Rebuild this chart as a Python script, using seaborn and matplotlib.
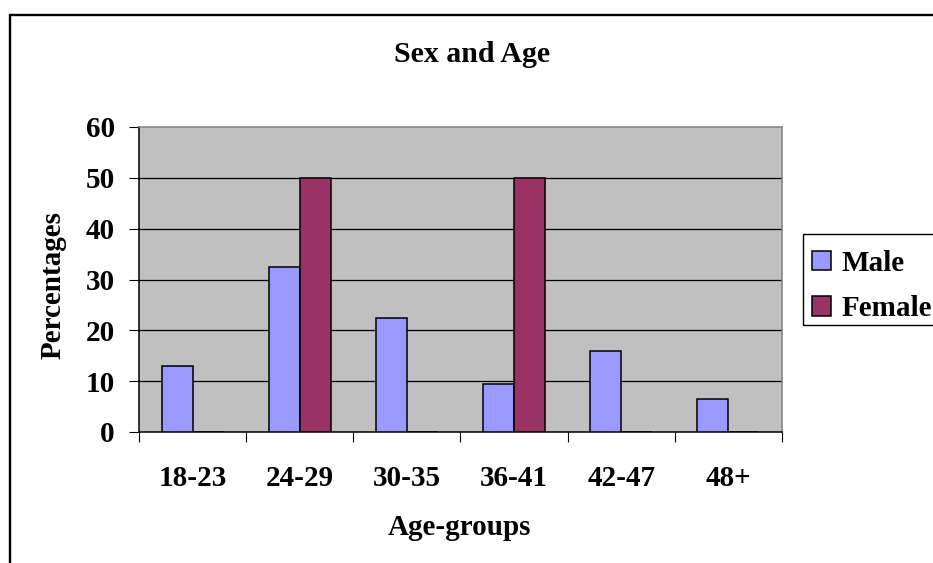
import numpy as np
import pandas as pd
import matplotlib
matplotlib.use("Agg")
import matplotlib.pyplot as plt
from matplotlib.patches import Patch, Rectangle
from matplotlib.lines import Line2D
import seaborn as sns

# ---- data ----
age_groups = ["18-23", "24-29", "30-35", "36-41", "42-47", "48+"]
male = [13, 32.5, 22.5, 9.5, 16, 6.5]
female = [0, 50, 0, 50, 0, 0]
series = ["Male", "Female"]
y_ticks = [0, 10, 20, 30, 40, 50, 60]

df = pd.DataFrame({
    "age": age_groups * 2,
    "pct": male + female,
    "sex": ["Male"] * len(age_groups) + ["Female"] * len(age_groups),
})

sns.set_style("white")
plt.rcParams["font.family"] = ["Liberation Serif", "DejaVu Serif"]
plt.rcParams["font.weight"] = "bold"
plt.rcParams["text.color"] = "black"
plt.rcParams["axes.labelcolor"] = "black"
plt.rcParams["xtick.color"] = "black"
plt.rcParams["ytick.color"] = "black"
plt.rcParams["xtick.labelcolor"] = "black"
plt.rcParams["ytick.labelcolor"] = "black"

W, H = 933, 563
fig = plt.figure(figsize=(W / 100, H / 100), dpi=100)
fig.patch.set_facecolor("white")

L, R, T, B = 139, 782, 127, 432
ax = fig.add_axes([L / W, 1 - B / H, (R - L) / W, (B - T) / H])
ax.set_facecolor("#C0C0C0")

colors = {"Male": "#9999FF", "Female": "#993366"}
sns.barplot(data=df, x="age", y="pct", hue="sex", hue_order=series,
            palette=colors, width=0.58, edgecolor="black", linewidth=1.1,
            saturation=1, ax=ax, legend=False, zorder=3)

ax.set_xlim(-0.5, len(age_groups) - 0.5)
ax.set_ylim(0, 60)
ax.set_yticks(y_ticks)
ax.set_yticklabels([str(v) for v in y_ticks], fontsize=21, fontweight="bold",
                   color="black")
for v in y_ticks[1:-1]:
    ax.axhline(v, color="black", linewidth=0.9, zorder=1)

# x ticks at category boundaries, labels at centres
ax.set_xticks(np.arange(-0.5, len(age_groups)), minor=False)
ax.set_xticklabels([""] * (len(age_groups) + 1))
ax.set_xticks(np.arange(len(age_groups)), minor=True)
ax.set_xticklabels(age_groups, minor=True, fontsize=21, fontweight="bold",
                   color="black")
ax.tick_params(axis="x", which="major", direction="out", length=7.5, width=0.8,
               color="black", bottom=True)
ax.tick_params(axis="x", which="minor", length=0, pad=24, bottom=True)
ax.tick_params(axis="y", direction="out", length=7.5, width=0.8, color="black",
               pad=10, left=True)
ax.set_xlabel("")
ax.set_ylabel("")

for s in ["left", "bottom"]:
    ax.spines[s].set_color("black")
    ax.spines[s].set_linewidth(1.1)
for s in ["top", "right"]:
    ax.spines[s].set_color("#808080")
    ax.spines[s].set_linewidth(1.1)

fig.text(472 / W, 1 - 62 / H, "Sex and Age", ha="center", va="baseline",
         fontsize=21.5, fontweight="bold", color="black")
fig.text(460 / W, 1 - 535 / H, "Age-groups", ha="center", va="baseline",
         fontsize=21, fontweight="bold", color="black")
fig.text(53 / W, 1 - 285 / H, "Percentages", ha="center", va="center",
         rotation=90, fontsize=21, fontweight="bold", color="black")

handles = [Patch(facecolor=colors[s], edgecolor="black", linewidth=1.1) for s in series]
leg = fig.legend(handles, series, loc="upper left",
                 bbox_to_anchor=(812 / W, 1 - 250 / H),
                 bbox_transform=fig.transFigure,
                 prop={"family": "Liberation Serif", "weight": "bold", "size": 21},
                 frameon=False,
                 handlelength=0.65, handleheight=0.65, handletextpad=0.35,
                 labelspacing=0.62, borderpad=0.0, borderaxespad=0)
for t in leg.get_texts():
    t.set_color("black")

# legend frame
fig.add_artist(Rectangle((803 / W, 1 - 325 / H), 140 / W, 91 / H,
                         transform=fig.transFigure, facecolor="none",
                         edgecolor="black", linewidth=1.0, clip_on=False))

# outer chart border
fig.add_artist(Line2D([9.5 / W, 9.5 / W], [0, 1 - 14.5 / H], color="black",
                      linewidth=1.7, transform=fig.transFigure))
fig.add_artist(Line2D([9.5 / W, 1.0], [1 - 14.5 / H, 1 - 14.5 / H], color="black",
                      linewidth=1.7, transform=fig.transFigure))

fig.savefig("out.png", dpi=100)
